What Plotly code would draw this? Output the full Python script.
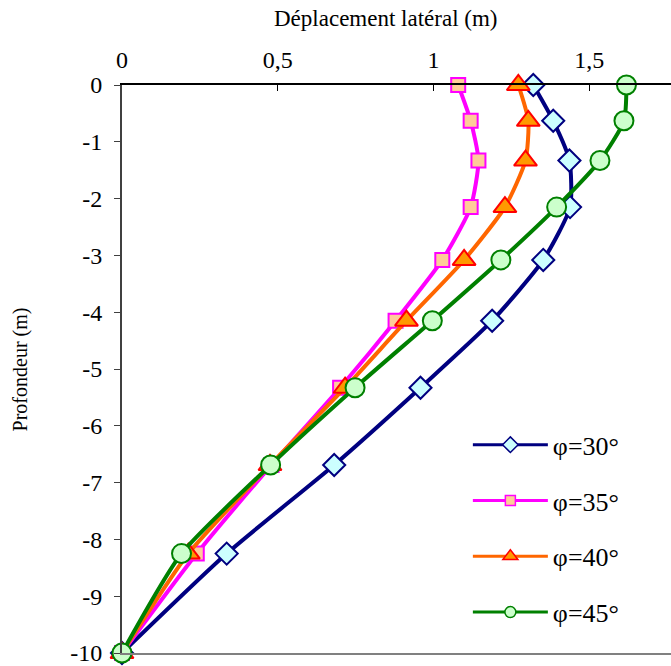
import plotly.graph_objects as go

# Depth below ground surface (m) and lateral displacement (m) per friction angle
depth = [0, -0.63, -1.33, -2.15, -3.08, -4.15, -5.33, -6.69, -8.25, -10]
disp_30 = [1.32, 1.384, 1.436, 1.438, 1.352, 1.188, 0.958, 0.681, 0.336, 0]
disp_35 = [1.079, 1.119, 1.144, 1.119, 1.028, 0.878, 0.700, 0.480, 0.240, 0]
disp_40 = [1.272, 1.304, 1.295, 1.229, 1.098, 0.913, 0.716, 0.475, 0.213, 0]
disp_45 = [1.619, 1.611, 1.534, 1.395, 1.216, 0.996, 0.748, 0.477, 0.191, 0]

series_names = ["φ=30°", "φ=35°", "φ=40°", "φ=45°"]

x_tickvals = [0, 0.5, 1, 1.5]
x_ticktext = ["0", "0,5", "1", "1,5"]
y_tickvals = [0, -1, -2, -3, -4, -5, -6, -7, -8, -9, -10]
y_ticktext = ["0", "-1", "-2", "-3", "-4", "-5", "-6", "-7", "-8", "-9", "-10"]

SERIF = "Liberation Serif, Times New Roman, serif"

styles = [
    dict(color="#000080", symbol="diamond", size=17, fill="#CCFFFF",
         edge="#000080", legend_size=12),
    dict(color="#FF00FF", symbol="square", size=14, fill="#FFCC99",
         edge="#FF00FF", legend_size=10),
    dict(color="#FF6600", symbol="triangle-up", size=20, fill="#FF9900",
         edge="#FF0000", legend_size=13),
    dict(color="#008000", symbol="circle", size=19, fill="#CCFFCC",
         edge="#008000", legend_size=11),
]

fig = go.Figure()
for i, (name, xs) in enumerate(zip(series_names, [disp_30, disp_35, disp_40, disp_45])):
    st = styles[i]
    fig.add_trace(go.Scatter(
        x=xs, y=depth, name=name, mode="lines+markers",
        line=dict(color=st["color"], width=4, shape="spline", smoothing=0.6),
        marker=dict(symbol=st["symbol"], size=st["size"], color=st["fill"],
                    line=dict(color=st["edge"], width=2)),
        legendgroup=f"g{i}", showlegend=False, cliponaxis=False,
    ))
    # legend entry with smaller symbol
    fig.add_trace(go.Scatter(
        x=[None], y=[None], name=name, mode="lines+markers",
        line=dict(color=st["color"], width=3),
        marker=dict(symbol=st["symbol"], size=st["legend_size"], color=st["fill"],
                    line=dict(color=st["edge"], width=1.5)),
        legendgroup=f"g{i}", showlegend=True, hoverinfo="skip",
    ))

# Plain bottom border of the plot area
fig.add_trace(go.Scatter(x=[None], y=[None], xaxis="x2", showlegend=False,
                         hoverinfo="skip"))

fig.update_layout(
    width=671, height=666,
    margin=dict(l=122, r=0, t=85, b=11),
    paper_bgcolor="white", plot_bgcolor="white",
    font=dict(family=SERIF, color="black"),
    showlegend=True,
    legend=dict(
        x=0.63, y=0.408, xanchor="left", yanchor="top",
        bgcolor="rgba(0,0,0,0)", font=dict(family=SERIF, size=26),
        traceorder="grouped", tracegroupgap=19, itemwidth=75,
    ),
    xaxis=dict(
        side="top", range=[0, 1.762], tickvals=x_tickvals, ticktext=x_ticktext,
        showgrid=False, zeroline=False, showline=True, linecolor="black",
        linewidth=1.5, ticks="inside", ticklen=6, tickcolor="black",
        tickfont=dict(family=SERIF, size=24), ticklabelstandoff=6,
    ),
    xaxis2=dict(
        overlaying="x", side="bottom", range=[0, 1.762], showgrid=False,
        zeroline=False, showline=True, linecolor="#808080", linewidth=2,
        showticklabels=False, ticks="",
    ),
    yaxis=dict(
        range=[-10, 0], tickvals=y_tickvals, ticktext=y_ticktext,
        showgrid=False, zeroline=False, showline=True, linecolor="#404040",
        linewidth=2, ticks="outside", ticklen=6, tickcolor="#404040",
        tickfont=dict(family=SERIF, size=24), ticklabelstandoff=7,
        ticklabeloverflow="allow",
    ),
    annotations=[
        dict(text="Déplacement latéral (m)", x=0.48, y=1.0, xref="paper",
             yref="paper", yshift=67, showarrow=False,
             font=dict(family=SERIF, size=23), xanchor="center", yanchor="middle"),
        dict(text="Profondeur (m)", x=-0.185, y=0.5, xref="paper", yref="paper",
             showarrow=False, textangle=-90,
             font=dict(family=SERIF, size=20), xanchor="center", yanchor="middle"),
    ],
)

fig.write_html("out.html")
